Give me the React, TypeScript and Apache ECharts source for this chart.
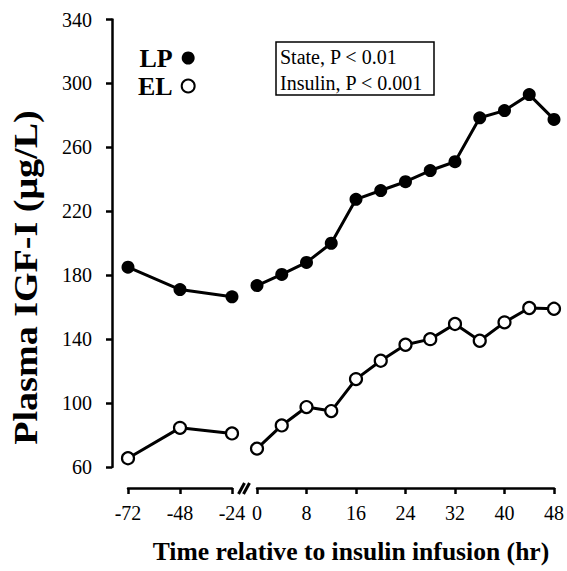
import React, { useEffect, useRef } from "react";
import * as echarts from "echarts";

const hoursPre = [-72, -48, -24];
const hoursPost = [0, 4, 8, 12, 16, 20, 24, 28, 32, 36, 40, 44, 48];
const lpPre = [185, 171, 166.5];
const lpPost = [173.5, 180.5, 188, 200, 227.5, 233, 238.5, 245.5, 251, 278.5, 283, 293, 277.5];
const elPre = [65.5, 84.5, 81];
const elPost = [71.5, 86, 97.5, 95, 115, 126.5, 136.5, 140, 149.5, 139, 150.5, 159.5, 159];
const yTicks = { min: 60, max: 340, interval: 40 };
const stats = ["State, P < 0.01", "Insulin, P < 0.001"];
const yTitle = "Plasma IGF-I (μg/L)";
const xTitle = "Time relative to insulin infusion (hr)";

const FONT = "'Liberation Serif', 'Times New Roman', serif";

export default function App() {
  const ref = useRef<HTMLDivElement>(null);
  useEffect(() => {
    if (!ref.current) return;
    const chart = echarts.init(ref.current, undefined, { renderer: "svg" });
    const pair = (xs: number[], ys: number[]) => xs.map((x, i) => [x, ys[i]]);
    const filled = {
      type: "line",
      symbol: "circle",
      symbolSize: 13,
      lineStyle: { color: "#000", width: 3 },
      itemStyle: { color: "#000", borderColor: "#000", borderWidth: 0 },
    };
    const hollow = {
      type: "line",
      symbol: "circle",
      symbolSize: 12,
      lineStyle: { color: "#000", width: 3 },
      itemStyle: { color: "#fff", borderColor: "#000", borderWidth: 2.2 },
    };
    const axisLineStyle = { color: "#000", width: 2.5 };
    const xCommon = {
      type: "value",
      offset: 21,
      splitLine: { show: false },
      axisLine: { show: true, lineStyle: axisLineStyle },
      axisTick: { show: true, inside: false, length: 6, lineStyle: axisLineStyle },
      axisLabel: { color: "#000", fontSize: 20, fontFamily: FONT, margin: 15 },
    };
    const option: any = {
      animation: false,
      backgroundColor: "#fff",
      grid: [
        { left: 128, top: 19.5, width: 104, height: 447.5 },
        { left: 257, top: 19.5, width: 299, height: 447.5 },
      ],
      xAxis: [
        { ...xCommon, gridIndex: 0, min: -72, max: -24, interval: 24 },
        { ...xCommon, gridIndex: 1, min: 0, max: 48, interval: 8 },
      ],
      yAxis: [
        {
          type: "value",
          gridIndex: 0,
          min: yTicks.min,
          max: yTicks.max,
          interval: yTicks.interval,
          offset: 16,
          splitLine: { show: false },
          axisLine: { show: true, lineStyle: axisLineStyle },
          axisTick: { show: true, length: 6, lineStyle: axisLineStyle },
          axisLabel: { color: "#000", fontSize: 20, fontFamily: FONT, margin: 20 },
        },
        {
          type: "value",
          gridIndex: 1,
          min: yTicks.min,
          max: yTicks.max,
          interval: yTicks.interval,
          show: false,
          splitLine: { show: false },
        },
      ],
      legend: {
        orient: "vertical",
        left: 133,
        top: 40,
        align: "right",
        itemWidth: 13,
        itemHeight: 13,
        itemGap: 2,
        textStyle: { color: "#000", fontSize: 26, fontWeight: "bold", fontFamily: FONT, padding: [0, 4, 0, 0] },
        data: [
          { name: "LP", icon: "circle", itemStyle: { color: "#000", borderWidth: 0 } },
          { name: "EL", icon: "circle", itemStyle: { color: "#fff", borderColor: "#000", borderWidth: 2 } },
        ],
      },
      series: [
        { ...filled, name: "LP", xAxisIndex: 0, yAxisIndex: 0, data: pair(hoursPre, lpPre) },
        { ...filled, name: "LP", xAxisIndex: 1, yAxisIndex: 1, data: pair(hoursPost, lpPost) },
        { ...hollow, name: "EL", xAxisIndex: 0, yAxisIndex: 0, data: pair(hoursPre, elPre) },
        { ...hollow, name: "EL", xAxisIndex: 1, yAxisIndex: 1, data: pair(hoursPost, elPost) },
      ],
      graphic: [
        {
          type: "rect",
          shape: { x: 276, y: 42, width: 158, height: 53 },
          style: { fill: "#fff", stroke: "#000", lineWidth: 1.5 },
        },
        {
          type: "text",
          x: 280,
          y: 57,
          style: { text: stats[0], font: `20px ${FONT}`, fill: "#000", textAlign: "left", textVerticalAlign: "middle" },
        },
        {
          type: "text",
          x: 280,
          y: 83,
          style: { text: stats[1], font: `20px ${FONT}`, fill: "#000", textAlign: "left", textVerticalAlign: "middle" },
        },
        {
          type: "line",
          shape: { x1: 238.5, y1: 494, x2: 244.5, y2: 483 },
          style: { stroke: "#000", lineWidth: 3 },
        },
        {
          type: "line",
          shape: { x1: 243.5, y1: 494, x2: 249.5, y2: 483 },
          style: { stroke: "#000", lineWidth: 3 },
        },
        {
          type: "text",
          x: 351,
          y: 551,
          style: { text: xTitle, font: `bold 25.6px ${FONT}`, fill: "#000", textAlign: "center", textVerticalAlign: "middle" },
        },
        {
          type: "text",
          x: 26,
          y: 277.5,
          rotation: Math.PI / 2,
          scaleX: 1.12,
          scaleY: 1,
          style: { text: yTitle, font: `bold 34px ${FONT}`, fill: "#000", textAlign: "center", textVerticalAlign: "middle" },
        },
      ],
    };
    chart.setOption(option);
    return () => chart.dispose();
  }, []);
  return (
    <div
      ref={ref}
      style={{ position: "absolute", left: 0, top: 0, width: 567, height: 571, background: "#fff" }}
    />
  );
}
